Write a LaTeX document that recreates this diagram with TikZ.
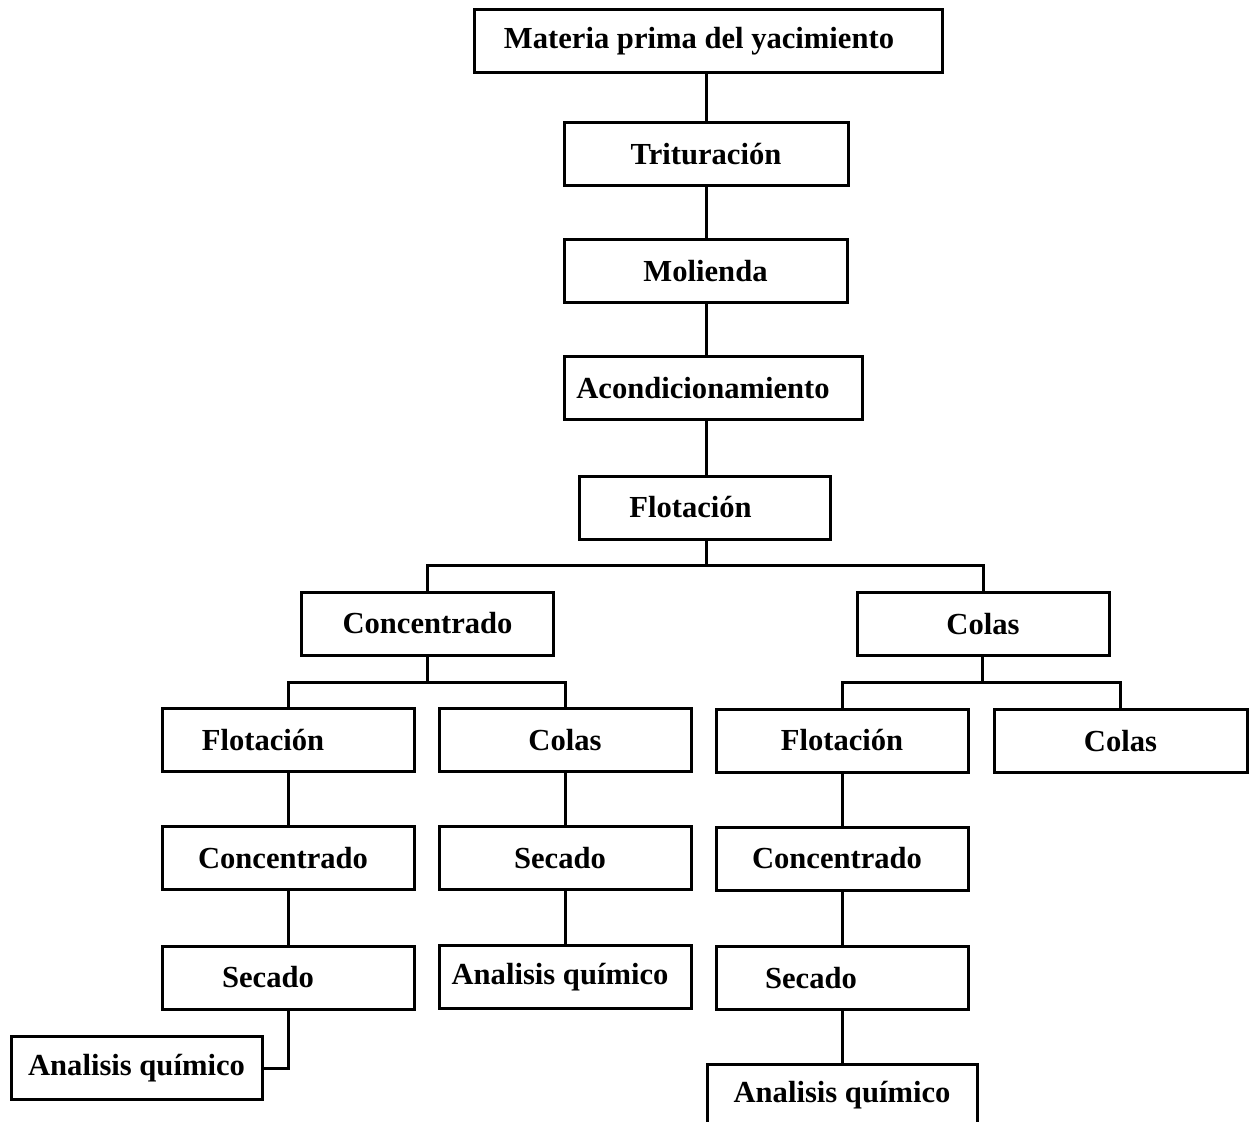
\documentclass[tikz,border=0pt]{standalone}
\usepackage{fontspec}
\setmainfont{Liberation Serif}
\begin{document}
\begin{tikzpicture}[x=0.5pt, y=-0.5pt,
    paso/.style={draw, rectangle, line width=1.5pt, minimum height=31.5pt, minimum width=126pt, inner sep=2pt, font=\fontsize{15.3}{18}\selectfont\bfseries},
    enlace/.style={line width=1.5pt}]
    \useasboundingbox (0,0) rectangle (1251,1122);
    % linea principal
    \node[paso, minimum width=234pt] (materia) at (708,41) {Materia prima del yacimiento\hspace*{9pt}};
    \node[paso, minimum width=142pt] (trit) at (706,154.5) {Trituración};
    \node[paso, minimum width=141.5pt] (mol) at (705.5,271.5) {Molienda};
    \node[paso, minimum width=149pt] (acond) at (713,388.5) {Acondicionamiento\hspace*{10pt}};
    \node[paso, minimum width=125.5pt] (flot) at (704.5,507.5) {Flotación\hspace*{14pt}};
    \coordinate (eje) at (706,0);

    \draw[enlace] (materia.south -| eje) -- (trit.north -| eje);
    \draw[enlace] (trit.south -| eje) -- (mol.north -| eje);
    \draw[enlace] (mol.south -| eje) -- (acond.north -| eje);
    \draw[enlace] (acond.south -| eje) -- (flot.north -| eje);

    % primera division
    \node[paso] (concA) at (427.5,623.5) {Concentrado};
    \node[paso] (colasA) at (983,624) {Colas};
    \coordinate (bus1) at (706,565);
    \draw[enlace] (flot.south -| eje) -- (bus1);
    \draw[enlace] (concA.north) |- (bus1) -| (colasA.north);

    % rama del concentrado
    \node[paso] (flotB) at (288,740) {Flotación\hspace*{25pt}};
    \node[paso] (colasB) at (565,740) {Colas};
    \coordinate (bus2) at (427.5,682);
    \draw[enlace] (concA.south) -- (bus2);
    \draw[enlace] (flotB.north) |- (bus2) -| (colasB.north);

    \node[paso] (concB) at (288,858) {Concentrado\hspace*{5pt}};
    \node[paso] (secL) at (288,977.5) {Secado\hspace*{20pt}};
    \node[paso, minimum width=125.5pt] (anaL) at (136.5,1068) {Analisis químico};
    \draw[enlace] (flotB) -- (concB);
    \draw[enlace] (concB) -- (secL);
    \draw[enlace] (secL.south) |- (anaL.east);

    \node[paso] (secM) at (565,858) {Secado\hspace*{5pt}};
    \node[paso] (anaM) at (565,977) {Analisis químico\hspace*{5pt}};
    \draw[enlace] (colasB) -- (secM);
    \draw[enlace] (secM) -- (anaM);

    % rama de las colas
    \node[paso] (flotC) at (842,740.5) {Flotación};
    \node[paso, minimum width=126.5pt] (colasC) at (1120.5,741) {Colas};
    \coordinate (bus3) at (982,682);
    \draw[enlace] (colasA.south -| bus3) -- (bus3);
    \draw[enlace] (flotC.north) |- (bus3) -| (colasC.north);

    \node[paso] (concC) at (842,858.5) {Concentrado\hspace*{5pt}};
    \node[paso] (secR) at (842,978) {Secado\hspace*{31pt}};
    \node[paso, minimum width=135pt] (anaR) at (842,1095.5) {Analisis químico};
    \draw[enlace] (flotC) -- (concC);
    \draw[enlace] (concC) -- (secR);
    \draw[enlace] (secR) -- (anaR);
\end{tikzpicture}
\end{document}
